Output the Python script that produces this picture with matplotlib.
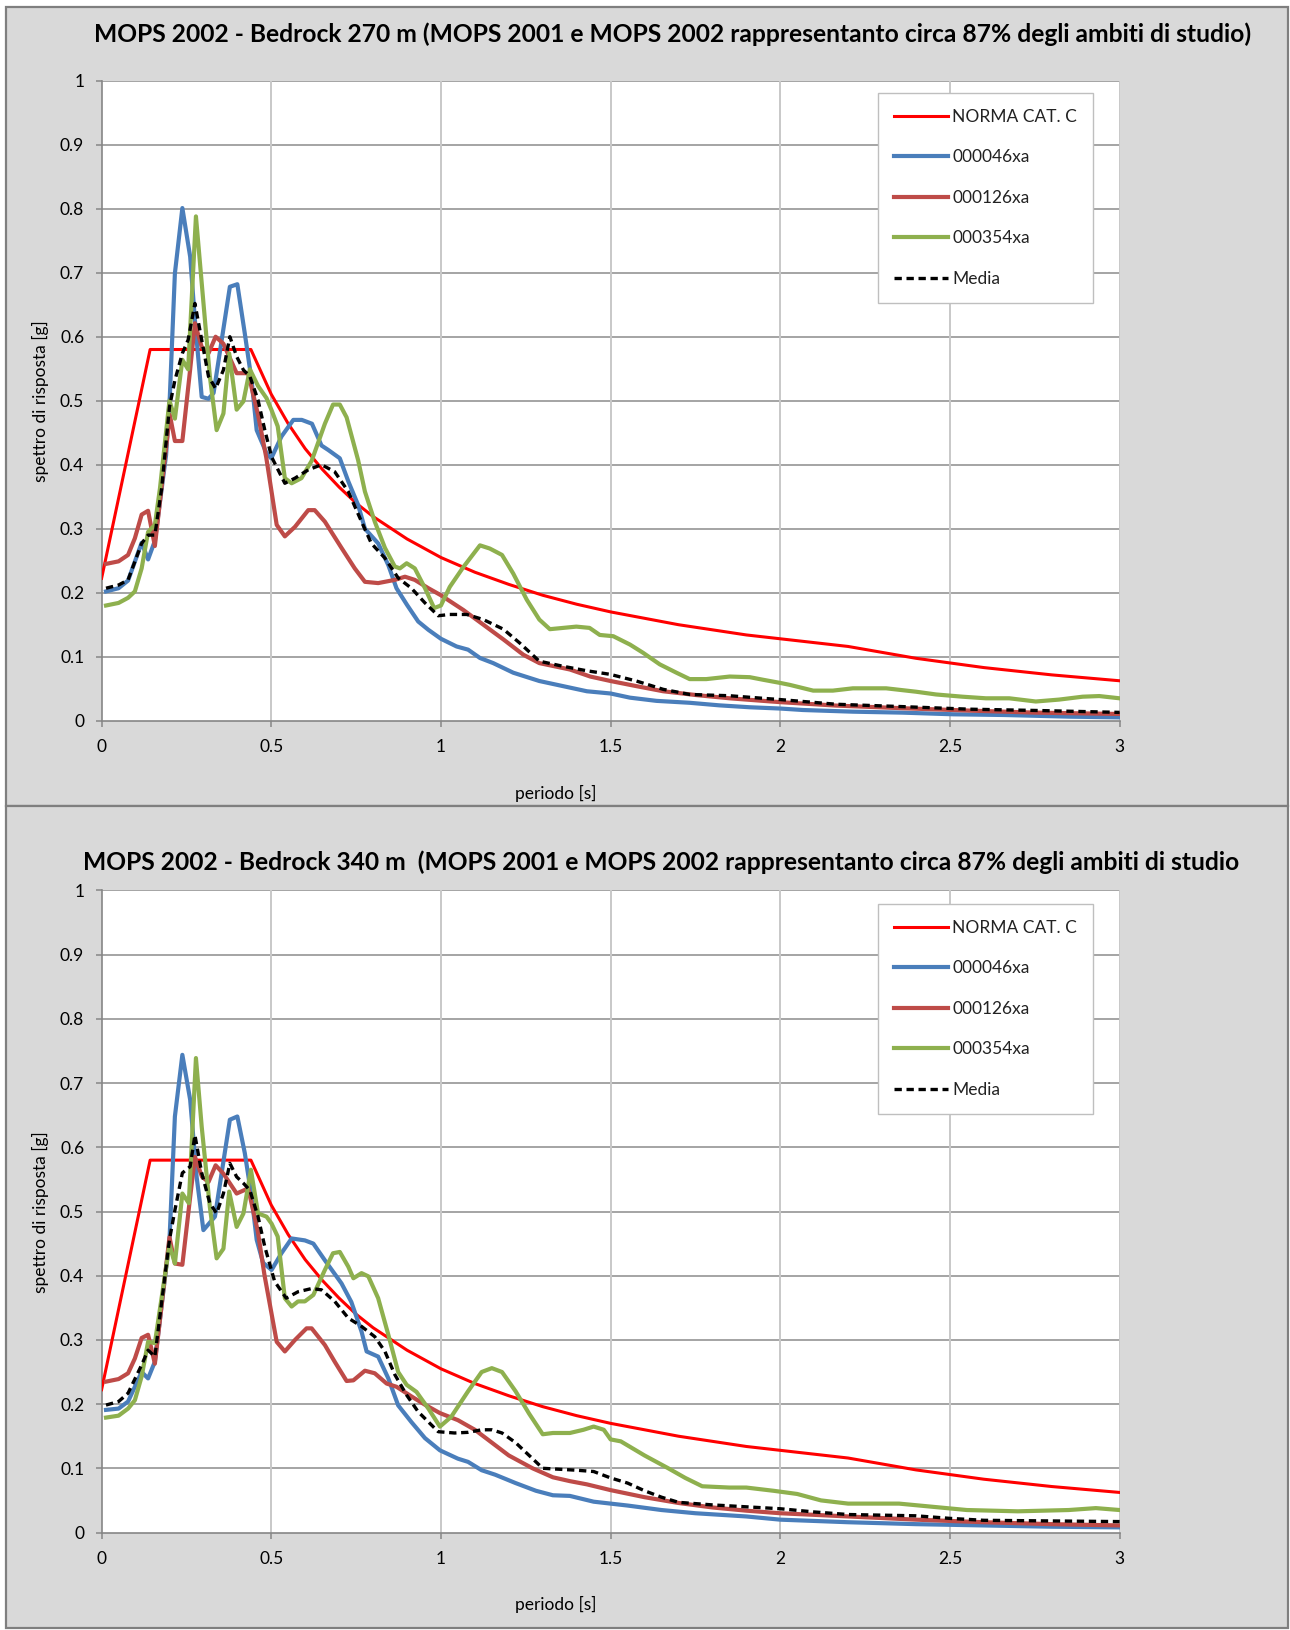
import matplotlib
matplotlib.use("Agg")
import matplotlib.pyplot as plt
from matplotlib.patches import Rectangle

plt.rcParams['font.family'] = ['Lato', 'DejaVu Sans']

W, H = 1290, 1630

# NTC design spectrum, soil category C (same for both panels)
T_norma = [0, 0.143, 0.44, 0.5, 0.55, 0.6, 0.65, 0.7, 0.75, 0.8, 0.9, 1.0, 1.1, 1.2,
           1.3, 1.4, 1.5, 1.6, 1.7, 1.8, 1.9, 2.0, 2.1, 2.2, 2.4, 2.6, 2.8, 3.0]
Sa_norma = [0.2225, 0.58, 0.58, 0.510, 0.464, 0.425, 0.393, 0.365, 0.340, 0.319, 0.284,
            0.255, 0.232, 0.213, 0.196, 0.182, 0.170, 0.160, 0.150, 0.142, 0.134, 0.128,
            0.122, 0.116, 0.0975, 0.083, 0.0716, 0.0624]

# ---- bedrock 270 m ----
T_046_a = [0.013, 0.05, 0.078, 0.118, 0.137, 0.157, 0.19, 0.201, 0.216, 0.238, 0.261, 0.275,
           0.295, 0.315, 0.33, 0.378, 0.4, 0.422, 0.442, 0.457, 0.486, 0.5, 0.53, 0.565,
           0.59, 0.62, 0.648, 0.668, 0.702, 0.727, 0.756, 0.776, 0.815, 0.845, 0.869, 0.9,
           0.933, 0.963, 1.0, 1.046, 1.08, 1.115, 1.154, 1.213, 1.29, 1.36, 1.43, 1.5,
           1.557, 1.635, 1.733, 1.82, 1.91, 2.0, 2.067, 2.214, 2.36, 2.51, 2.66, 2.855, 3.0]
Sa_046_a = [0.202, 0.207, 0.219, 0.278, 0.252, 0.281, 0.415, 0.506, 0.699, 0.801, 0.725, 0.626,
            0.506, 0.503, 0.512, 0.678, 0.682, 0.605, 0.532, 0.454, 0.418, 0.41, 0.444, 0.47,
            0.47, 0.464, 0.43, 0.423, 0.41, 0.374, 0.337, 0.300, 0.277, 0.243, 0.207, 0.181,
            0.155, 0.142, 0.128, 0.116, 0.111, 0.098, 0.09, 0.075, 0.062, 0.054, 0.046, 0.0425,
            0.036, 0.031, 0.028, 0.024, 0.021, 0.019, 0.0167, 0.0141, 0.0126, 0.010, 0.0089,
            0.0063, 0.0052]

T_126_a = [0.013, 0.05, 0.078, 0.098, 0.118, 0.137, 0.157, 0.201, 0.216, 0.238, 0.261, 0.275,
           0.295, 0.315, 0.336, 0.359, 0.398, 0.432, 0.461, 0.485, 0.516, 0.54, 0.57, 0.609,
           0.628, 0.658, 0.707, 0.746, 0.776, 0.815, 0.864, 0.894, 0.923, 0.963, 1.0, 1.066,
           1.125, 1.184, 1.243, 1.29, 1.38, 1.44, 1.5, 1.576, 1.655, 1.753, 1.851, 1.949,
           2.0, 2.165, 2.36, 2.557, 2.753, 3.0]
Sa_126_a = [0.245, 0.249, 0.259, 0.285, 0.322, 0.328, 0.273, 0.478, 0.437, 0.437, 0.549, 0.621,
            0.584, 0.574, 0.600, 0.589, 0.543, 0.543, 0.478, 0.412, 0.306, 0.288, 0.303, 0.329,
            0.329, 0.311, 0.270, 0.238, 0.217, 0.215, 0.220, 0.225, 0.220, 0.207, 0.196, 0.173,
            0.150, 0.127, 0.103, 0.090, 0.080, 0.069, 0.062, 0.054, 0.046, 0.040, 0.035, 0.031,
            0.029, 0.0236, 0.0195, 0.0158, 0.0126, 0.0105]

T_354_a = [0.013, 0.05, 0.078, 0.098, 0.118, 0.137, 0.157, 0.172, 0.2, 0.216, 0.238, 0.255,
           0.278, 0.295, 0.319, 0.339, 0.359, 0.376, 0.398, 0.418, 0.437, 0.461, 0.486, 0.501,
           0.519, 0.54, 0.56, 0.589, 0.619, 0.658, 0.682, 0.702, 0.722, 0.756, 0.776, 0.805,
           0.835, 0.864, 0.879, 0.899, 0.923, 0.953, 0.98, 1.0, 1.026, 1.066, 1.115, 1.144,
           1.18, 1.213, 1.253, 1.29, 1.321, 1.36, 1.399, 1.438, 1.468, 1.508, 1.557, 1.596,
           1.645, 1.694, 1.733, 1.782, 1.851, 1.91, 1.949, 2.0, 2.028, 2.097, 2.155, 2.214,
           2.312, 2.4, 2.459, 2.537, 2.606, 2.675, 2.753, 2.822, 2.891, 2.94, 3.0]
Sa_354_a = [0.180, 0.184, 0.192, 0.202, 0.238, 0.295, 0.306, 0.363, 0.5, 0.472, 0.564, 0.549,
            0.788, 0.684, 0.538, 0.454, 0.48, 0.574, 0.486, 0.499, 0.549, 0.523, 0.504, 0.485,
            0.460, 0.379, 0.371, 0.379, 0.406, 0.464, 0.494, 0.494, 0.474, 0.407, 0.358, 0.311,
            0.27, 0.241, 0.238, 0.246, 0.238, 0.207, 0.176, 0.18, 0.209, 0.24, 0.274, 0.269,
            0.259, 0.23, 0.189, 0.158, 0.143, 0.145, 0.147, 0.145, 0.134, 0.132, 0.119, 0.106,
            0.088, 0.075, 0.065, 0.065, 0.069, 0.068, 0.064, 0.059, 0.056, 0.047, 0.047, 0.0506,
            0.0506, 0.0453, 0.041, 0.0375, 0.035, 0.035, 0.030, 0.033, 0.0375, 0.0385, 0.035]

T_med_a = [0.013, 0.05, 0.078, 0.118, 0.137, 0.157, 0.177, 0.2, 0.216, 0.238, 0.255, 0.275,
           0.295, 0.315, 0.336, 0.359, 0.378, 0.398, 0.418, 0.437, 0.461, 0.481, 0.501, 0.54,
           0.57, 0.609, 0.648, 0.687, 0.727, 0.766, 0.795, 0.835, 0.874, 0.913, 0.953, 0.992,
           1.026, 1.076, 1.125, 1.184, 1.233, 1.29, 1.36, 1.43, 1.498, 1.576, 1.655, 1.733,
           1.851, 1.949, 2.0, 2.165, 2.36, 2.557, 2.753, 3.0]
Sa_med_a = [0.207, 0.212, 0.22, 0.277, 0.29, 0.29, 0.363, 0.49, 0.532, 0.574, 0.595, 0.652,
            0.595, 0.538, 0.519, 0.548, 0.6, 0.569, 0.548, 0.538, 0.501, 0.454, 0.412, 0.371,
            0.379, 0.392, 0.4, 0.389, 0.358, 0.311, 0.277, 0.254, 0.223, 0.207, 0.184, 0.164,
            0.166, 0.166, 0.158, 0.143, 0.121, 0.093, 0.085, 0.078, 0.0725, 0.062, 0.049, 0.041,
            0.039, 0.035, 0.033, 0.0257, 0.022, 0.018, 0.016, 0.013]

# ---- bedrock 340 m ----
T_046_b = [0.013, 0.05, 0.078, 0.118, 0.137, 0.157, 0.2, 0.216, 0.238, 0.261, 0.28, 0.3,
           0.334, 0.378, 0.4, 0.422, 0.442, 0.457, 0.476, 0.501, 0.53, 0.56, 0.599, 0.624,
           0.658, 0.707, 0.736, 0.766, 0.781, 0.815, 0.845, 0.874, 0.913, 0.953, 0.997, 1.05,
           1.08, 1.12, 1.16, 1.22, 1.28, 1.33, 1.38, 1.45, 1.55, 1.65, 1.75, 1.9, 2.0, 2.2,
           2.4, 2.6, 2.8, 3.0]
Sa_046_b = [0.191, 0.193, 0.204, 0.25, 0.24, 0.266, 0.455, 0.648, 0.744, 0.674, 0.554, 0.471,
            0.492, 0.643, 0.648, 0.591, 0.523, 0.456, 0.42, 0.409, 0.435, 0.458, 0.455, 0.45,
            0.424, 0.388, 0.359, 0.313, 0.282, 0.274, 0.24, 0.198, 0.172, 0.147, 0.128, 0.115,
            0.11, 0.097, 0.09, 0.077, 0.065, 0.058, 0.057, 0.048, 0.042, 0.035, 0.030, 0.025,
            0.020, 0.016, 0.013, 0.011, 0.009, 0.008]

T_126_b = [0.013, 0.05, 0.078, 0.098, 0.118, 0.137, 0.157, 0.2, 0.216, 0.238, 0.26, 0.275,
           0.296, 0.315, 0.336, 0.359, 0.398, 0.432, 0.46, 0.48, 0.516, 0.54, 0.57, 0.604,
           0.619, 0.658, 0.687, 0.722, 0.742, 0.776, 0.805, 0.84, 0.869, 0.913, 0.953, 0.997,
           1.05, 1.1, 1.15, 1.2, 1.27, 1.33, 1.38, 1.43, 1.5, 1.6, 1.7, 1.8, 1.9, 2.0, 2.2,
           2.4, 2.6, 2.8, 3.0]
Sa_126_b = [0.235, 0.239, 0.248, 0.271, 0.303, 0.308, 0.263, 0.46, 0.419, 0.417, 0.518, 0.585,
            0.554, 0.546, 0.572, 0.559, 0.528, 0.536, 0.47, 0.401, 0.297, 0.282, 0.3, 0.318,
            0.318, 0.292, 0.266, 0.236, 0.237, 0.252, 0.248, 0.232, 0.227, 0.212, 0.199, 0.186,
            0.175, 0.16, 0.14, 0.12, 0.1, 0.086, 0.08, 0.075, 0.066, 0.055, 0.046, 0.039, 0.034,
            0.030, 0.025, 0.020, 0.016, 0.013, 0.011]

T_354_b = [0.013, 0.05, 0.078, 0.098, 0.118, 0.137, 0.157, 0.2, 0.216, 0.238, 0.257, 0.278,
           0.295, 0.319, 0.339, 0.359, 0.376, 0.398, 0.418, 0.44, 0.461, 0.486, 0.501, 0.519,
           0.54, 0.56, 0.579, 0.599, 0.624, 0.658, 0.682, 0.702, 0.727, 0.742, 0.766, 0.786,
           0.815, 0.845, 0.874, 0.899, 0.928, 0.963, 0.997, 1.03, 1.08, 1.12, 1.15, 1.18, 1.22,
           1.26, 1.3, 1.33, 1.38, 1.42, 1.45, 1.48, 1.5, 1.53, 1.6, 1.67, 1.72, 1.77, 1.85,
           1.9, 1.98, 2.05, 2.12, 2.2, 2.35, 2.45, 2.55, 2.7, 2.85, 2.93, 3.0]
Sa_354_b = [0.179, 0.182, 0.193, 0.206, 0.243, 0.297, 0.295, 0.448, 0.419, 0.528, 0.513, 0.739,
            0.632, 0.507, 0.427, 0.442, 0.531, 0.476, 0.497, 0.565, 0.497, 0.492, 0.481, 0.461,
            0.365, 0.352, 0.36, 0.36, 0.37, 0.409, 0.435, 0.437, 0.414, 0.396, 0.404, 0.399,
            0.365, 0.308, 0.25, 0.23, 0.219, 0.193, 0.165, 0.18, 0.22, 0.25, 0.256, 0.25, 0.22,
            0.185, 0.153, 0.155, 0.155, 0.16, 0.165, 0.16, 0.145, 0.142, 0.12, 0.1, 0.085, 0.072,
            0.07, 0.07, 0.065, 0.06, 0.05, 0.045, 0.045, 0.04, 0.035, 0.033, 0.035, 0.038, 0.035]

T_med_b = [0.013, 0.05, 0.078, 0.118, 0.137, 0.157, 0.2, 0.216, 0.238, 0.261, 0.275, 0.295,
           0.319, 0.339, 0.359, 0.378, 0.398, 0.418, 0.437, 0.461, 0.481, 0.51, 0.544, 0.579,
           0.619, 0.648, 0.687, 0.727, 0.766, 0.805, 0.835, 0.864, 0.899, 0.933, 0.992, 1.04,
           1.08, 1.12, 1.15, 1.18, 1.22, 1.26, 1.3, 1.4, 1.45, 1.5, 1.55, 1.6, 1.65, 1.7, 1.8,
           1.9, 2.0, 2.1, 2.2, 2.4, 2.5, 2.6, 2.8, 3.0]
Sa_med_b = [0.1985, 0.204, 0.217, 0.261, 0.284, 0.274, 0.456, 0.502, 0.56, 0.570, 0.619, 0.56,
            0.513, 0.497, 0.528, 0.575, 0.554, 0.544, 0.533, 0.492, 0.445, 0.391, 0.365, 0.375,
            0.38, 0.378, 0.36, 0.334, 0.321, 0.305, 0.282, 0.246, 0.214, 0.188, 0.157, 0.155,
            0.156, 0.16, 0.16, 0.155, 0.14, 0.12, 0.1, 0.097, 0.095, 0.085, 0.077, 0.065, 0.055,
            0.047, 0.043, 0.04, 0.037, 0.032, 0.028, 0.026, 0.022, 0.019, 0.018, 0.017]

titles = ["MOPS 2002 - Bedrock 270 m (MOPS 2001 e MOPS 2002 rappresentanto circa 87% degli ambiti di studio)",
          "MOPS 2002 - Bedrock 340 m  (MOPS 2001 e MOPS 2002 rappresentanto circa 87% degli ambiti di studio"]
labels = ["NORMA CAT. C", "000046xa", "000126xa", "000354xa", "Media"]
colors = ["#ff0000", "#4a7ebb", "#be4b48", "#8eb04e", "black"]

yticks = [0, 0.1, 0.2, 0.3, 0.4, 0.5, 0.6, 0.7, 0.8, 0.9, 1.0]
ytick_labels = ["0", "0.1", "0.2", "0.3", "0.4", "0.5", "0.6", "0.7", "0.8", "0.9", "1"]
xticks = [0, 0.5, 1, 1.5, 2, 2.5, 3]
xtick_labels = ["0", "0.5", "1", "1.5", "2", "2.5", "3"]


def fx(px):
    return px / W


def fy(py):
    return 1 - py / H


fig = plt.figure(figsize=(W / 100, H / 100), dpi=100, facecolor="white")

# grey chart areas with border
for top, bot in [(7, 806), (806, 1628)]:
    fig.add_artist(Rectangle((fx(6), fy(bot)), fx(1288) - fx(6), fy(top) - fy(bot),
                             transform=fig.transFigure, facecolor="#d9d9d9",
                             edgecolor="#7f7f7f", lw=1.6, zorder=0))


def draw_panel(rect, series, title, title_xy, ylab_y, xlab_y, leg_top):
    ax = fig.add_axes(rect)
    ax.set_facecolor("white")
    ax.set_xlim(0, 3)
    ax.set_ylim(0, 1)
    for y in yticks[1:]:
        ax.axhline(y, color="#8c8c8c", lw=1.1, zorder=1)
    for x in xticks[1:]:
        ax.axvline(x, color="#c8c8c8", lw=1.4, zorder=1)
    for sp in ["top", "right"]:
        ax.spines[sp].set_visible(False)
    for sp in ["left", "bottom"]:
        ax.spines[sp].set_color("#868686")
        ax.spines[sp].set_linewidth(1.2)
    ax.set_xticks(xticks)
    ax.set_xticklabels(xtick_labels)
    ax.set_yticks(yticks)
    ax.set_yticklabels(ytick_labels)
    ax.tick_params(axis="both", direction="out", length=4.5, width=1.1, color="#868686",
                   labelsize=12.5, labelcolor="black")
    ax.tick_params(axis="x", pad=9)
    ax.tick_params(axis="y", pad=8)

    lines = []
    for i, (T, Sa) in enumerate(series):
        if i == 0:
            ln, = ax.plot(T, Sa, color=colors[i], lw=2.2, zorder=3)
        elif i == 4:
            ln, = ax.plot(T, Sa, color=colors[i], lw=2.4, dashes=(2.2, 1.4), zorder=6)
        else:
            ln, = ax.plot(T, Sa, color=colors[i], lw=3.0, zorder=3 + i,
                          solid_joinstyle="round")
        lines.append(ln)

    leg = ax.legend(lines, labels, loc="upper left",
                    bbox_to_anchor=(fx(878), fy(leg_top)), bbox_transform=fig.transFigure,
                    fontsize=12.5, handlelength=3.1, handletextpad=0.25, labelspacing=1.41,
                    borderpad=0.92, fancybox=False, framealpha=1, edgecolor="#bfbfbf",
                    borderaxespad=0)
    leg.get_frame().set_linewidth(1.0)
    for t in leg.get_texts():
        t.set_color("#222222")
    leg.set_zorder(10)

    fig.text(fx(title_xy[0]), fy(title_xy[1]), title, ha="center", va="center",
             fontsize=17.7, fontweight="bold", color="black")
    fig.text(fx(40), fy(ylab_y), "spettro di risposta [g]", rotation=90, ha="center",
             va="center", fontsize=12.5, color="black")
    fig.text(fx(556), fy(xlab_y), "periodo [s]", ha="center", va="center",
             fontsize=12.5, color="black")
    return ax


panel_a = [(T_norma, Sa_norma), (T_046_a, Sa_046_a), (T_126_a, Sa_126_a),
           (T_354_a, Sa_354_a), (T_med_a, Sa_med_a)]
panel_b = [(T_norma, Sa_norma), (T_046_b, Sa_046_b), (T_126_b, Sa_126_b),
           (T_354_b, Sa_354_b), (T_med_b, Sa_med_b)]

x0, x1 = fx(101.6), fx(1119.6)
draw_panel([x0, fy(720.7), x1 - x0, fy(80.7) - fy(720.7)], panel_a, titles[0],
           (673, 34), 401, 793, 93)
draw_panel([x0, fy(1532.5), x1 - x0, fy(890.5) - fy(1532.5)], panel_b, titles[1],
           (661, 862), 1212, 1604, 904)

fig.savefig("out.png", dpi=100, facecolor=fig.get_facecolor())
